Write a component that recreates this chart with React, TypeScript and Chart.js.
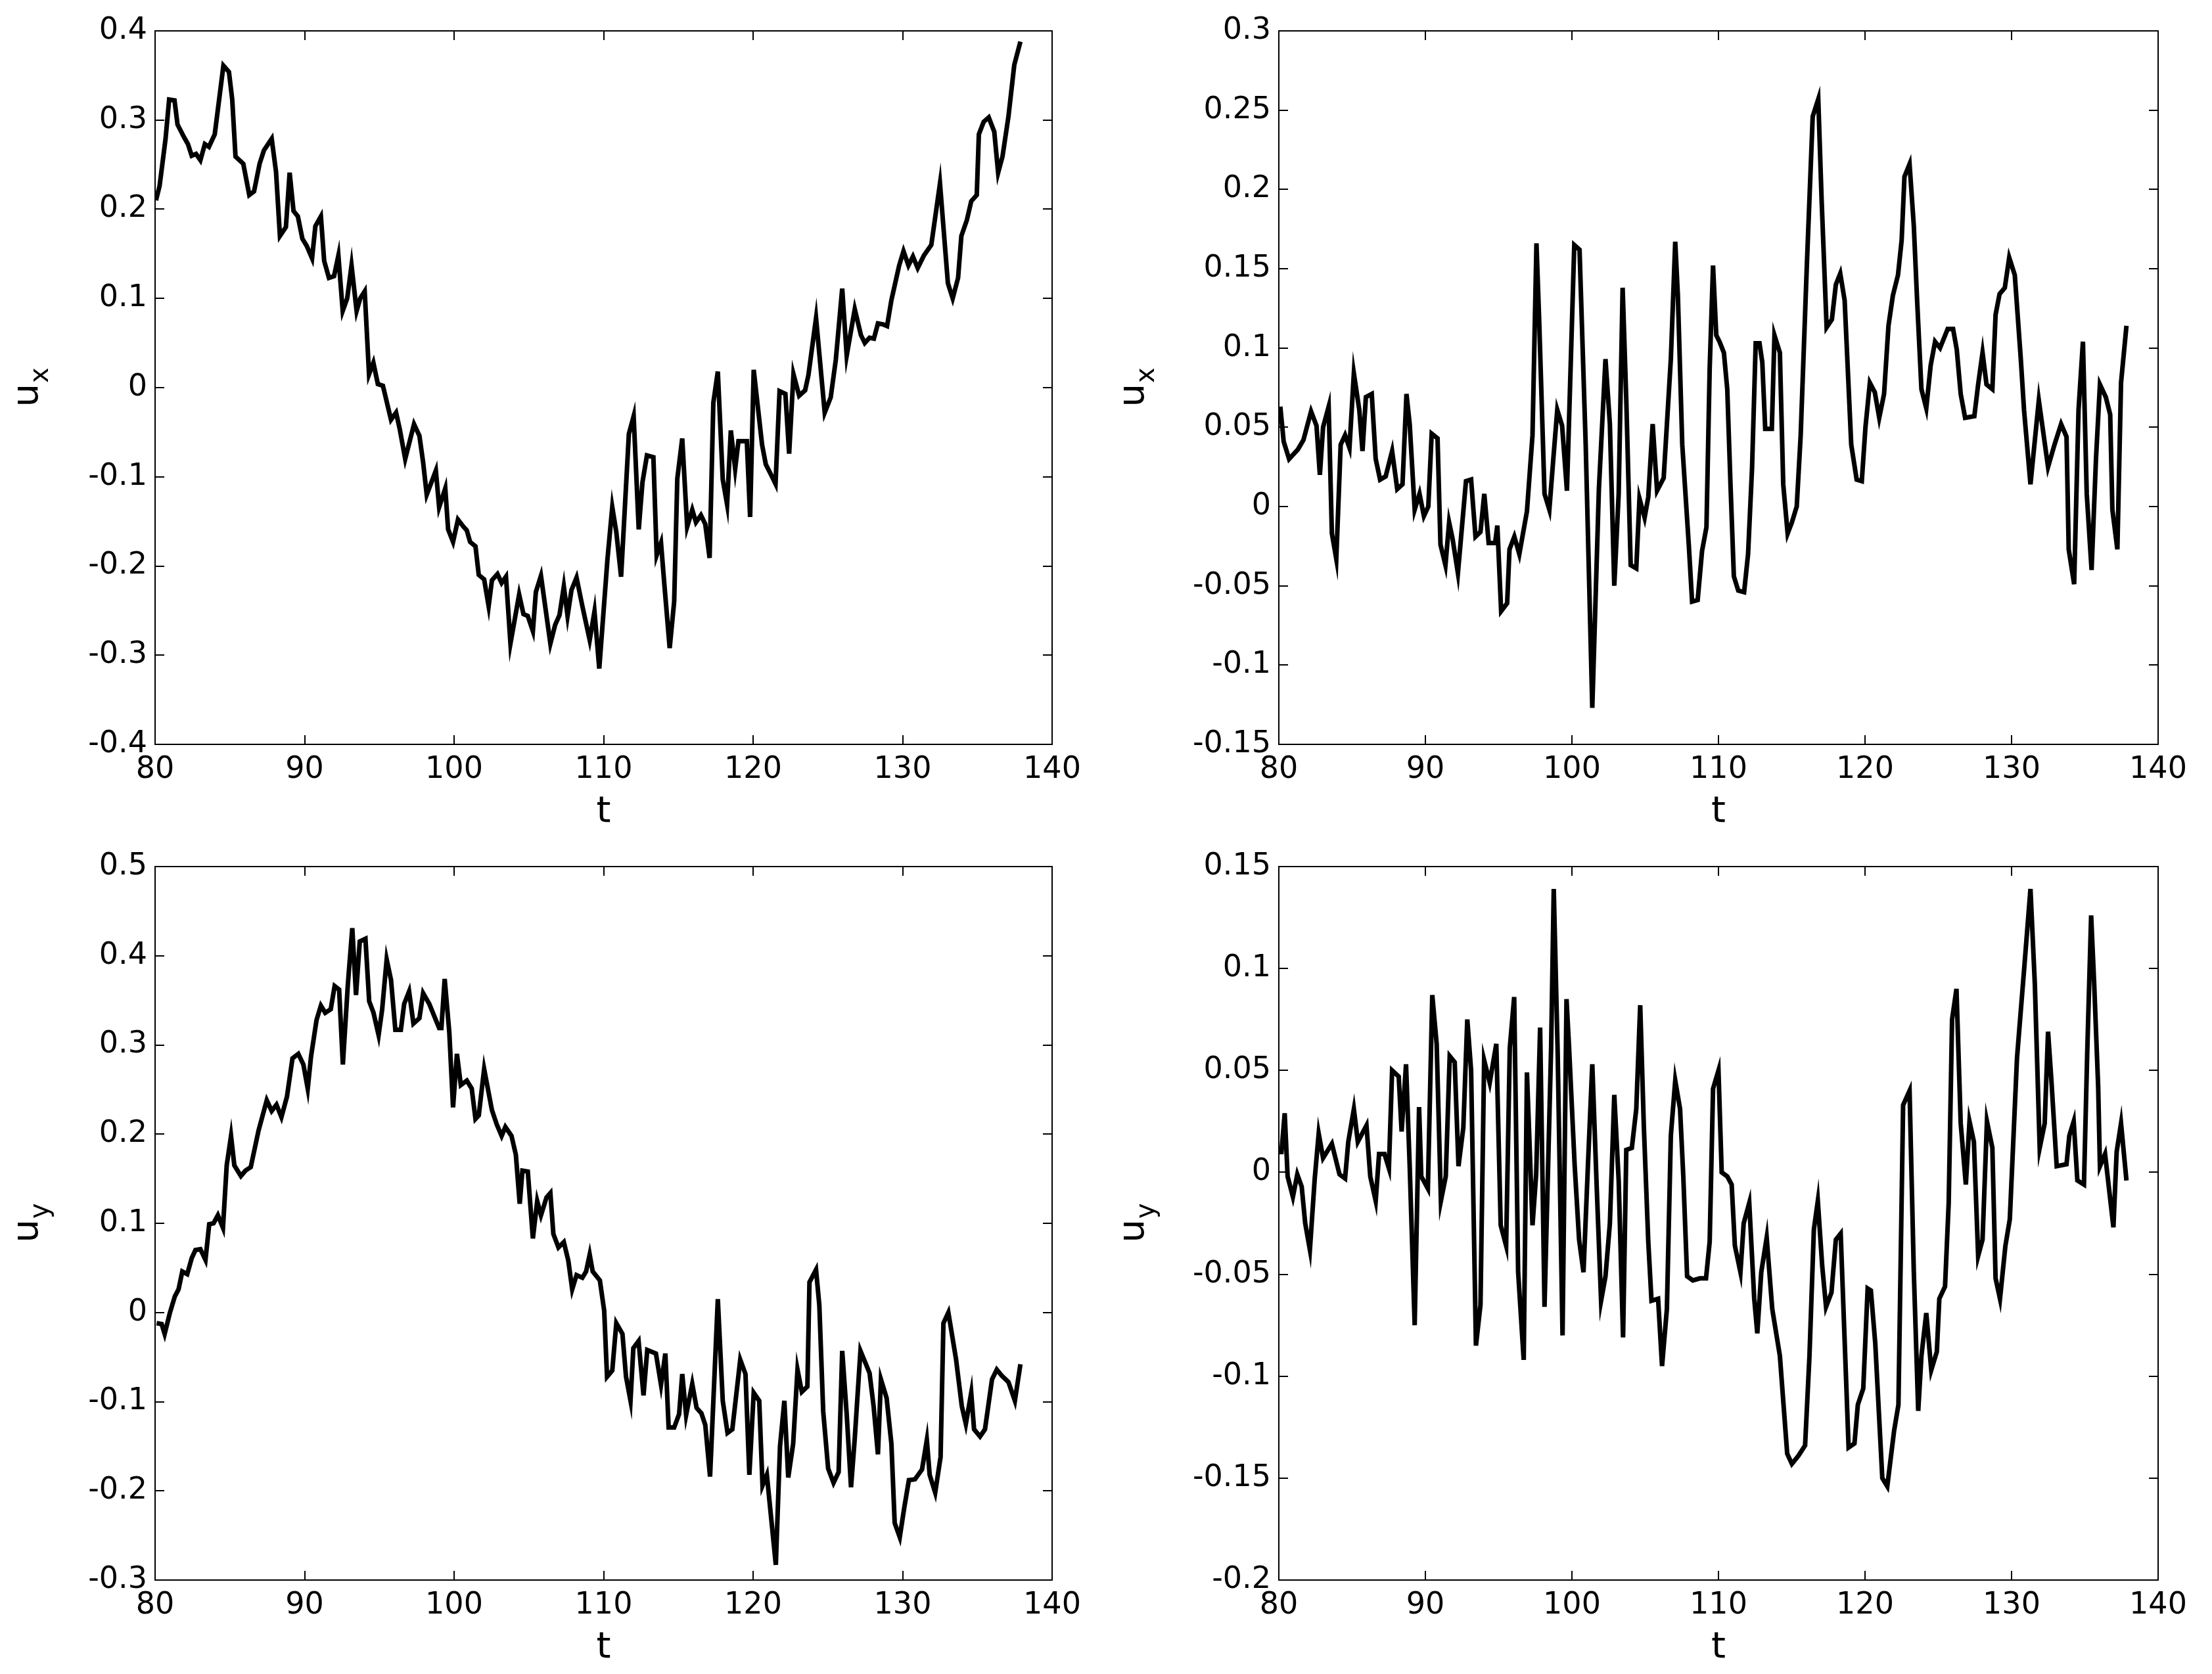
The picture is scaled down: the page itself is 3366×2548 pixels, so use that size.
import React, { useEffect, useRef } from 'react';
import { Chart, registerables } from 'chart.js';

Chart.register(...registerables);

// ---------- data ----------
const tUxA = [80.06,80.3,80.7,80.94,81.3,81.5,81.93,82.2,82.45,82.74,83.03,83.33,83.6,83.99,84.57,84.94,85.16,85.38,85.9,86.3,86.62,86.99,87.28,87.8,88.09,88.35,88.75,89.0,89.26,89.55,89.85,90.14,90.5,90.72,91.09,91.31,91.63,91.97,92.26,92.55,92.85,93.14,93.48,93.72,94.02,94.31,94.6,94.9,95.24,95.78,96.12,96.37,96.73,97.32,97.68,97.93,98.17,98.78,99.0,99.41,99.6,99.93,100.26,100.63,100.85,101.07,101.43,101.65,102.01,102.31,102.53,102.9,103.18,103.47,103.77,104.35,104.64,104.93,105.27,105.47,105.81,106.44,106.76,107.05,107.34,107.59,107.85,108.19,108.58,109.07,109.39,109.71,110.26,110.58,110.85,111.17,111.69,112.01,112.35,112.6,112.9,113.33,113.55,113.84,114.06,114.42,114.72,114.93,115.26,115.59,115.93,116.18,116.51,116.8,117.09,117.34,117.64,117.97,118.26,118.51,118.8,119.02,119.58,119.8,120.04,120.6,120.85,121.21,121.5,121.77,122.16,122.41,122.7,123.08,123.48,123.7,124.21,124.79,125.19,125.53,125.96,126.26,126.8,127.21,127.47,127.79,128.08,128.35,128.67,128.96,129.25,129.77,130.06,130.39,130.69,131.01,131.42,131.92,132.5,133.03,133.35,133.71,133.93,134.3,134.59,134.96,135.1,135.42,135.76,136.13,136.39,136.68,137.08,137.47,137.88];
const uxA = [0.210,0.226,0.279,0.323,0.322,0.295,0.281,0.273,0.260,0.262,0.255,0.273,0.270,0.284,0.361,0.354,0.323,0.259,0.251,0.216,0.220,0.251,0.266,0.279,0.242,0.170,0.180,0.241,0.198,0.192,0.167,0.159,0.145,0.181,0.192,0.142,0.123,0.125,0.148,0.086,0.100,0.137,0.086,0.100,0.108,0.015,0.028,0.004,0.002,-0.036,-0.028,-0.047,-0.080,-0.041,-0.054,-0.084,-0.120,-0.093,-0.134,-0.113,-0.159,-0.173,-0.148,-0.156,-0.160,-0.173,-0.178,-0.210,-0.215,-0.245,-0.216,-0.209,-0.219,-0.212,-0.287,-0.232,-0.254,-0.256,-0.273,-0.229,-0.211,-0.287,-0.266,-0.255,-0.223,-0.256,-0.227,-0.213,-0.245,-0.283,-0.251,-0.315,-0.192,-0.134,-0.162,-0.212,-0.052,-0.032,-0.159,-0.106,-0.076,-0.078,-0.188,-0.174,-0.220,-0.292,-0.240,-0.102,-0.057,-0.156,-0.137,-0.151,-0.143,-0.153,-0.191,-0.017,0.018,-0.103,-0.131,-0.048,-0.091,-0.060,-0.060,-0.145,0.020,-0.064,-0.086,-0.098,-0.108,-0.004,-0.007,-0.074,0.015,-0.009,-0.003,0.014,0.078,-0.028,-0.011,0.031,0.111,0.036,0.088,0.059,0.050,0.056,0.055,0.072,0.071,0.069,0.098,0.137,0.153,0.137,0.147,0.134,0.148,0.160,0.229,0.117,0.100,0.123,0.170,0.188,0.209,0.216,0.284,0.298,0.303,0.287,0.241,0.259,0.304,0.362,0.388];

const tUxB = [80.1,80.33,80.7,81.3,81.68,82.2,82.57,82.8,83.02,83.4,83.62,83.92,84.22,84.52,84.82,85.12,85.49,85.71,85.94,86.34,86.61,86.91,87.29,87.73,88.08,88.44,88.71,88.93,89.27,89.6,89.9,90.2,90.43,90.83,91.03,91.37,91.62,91.85,92.22,92.77,93.12,93.42,93.76,94.02,94.32,94.76,94.91,95.17,95.58,95.74,96.07,96.41,96.93,97.31,97.58,97.76,98.13,98.46,98.73,99.0,99.33,99.66,100.16,100.52,100.94,101.39,101.84,102.29,102.59,102.89,103.19,103.46,103.71,104.01,104.39,104.61,104.96,105.21,105.51,105.81,106.26,106.75,107.05,107.23,107.53,107.98,108.2,108.58,108.88,109.18,109.4,109.63,109.85,110.07,110.37,110.6,110.82,111.05,111.35,111.75,112.02,112.29,112.54,112.8,112.99,113.19,113.64,113.82,114.19,114.42,114.72,115.01,115.34,115.61,116.03,116.43,116.81,117.04,117.38,117.74,118.01,118.31,118.61,119.06,119.43,119.78,120.03,120.33,120.67,120.97,121.3,121.6,121.9,122.25,122.5,122.69,123.04,123.33,123.56,123.85,124.18,124.48,124.78,125.12,125.64,126.01,126.26,126.53,126.83,127.46,127.72,128.02,128.29,128.69,128.91,129.18,129.54,129.84,130.22,130.63,130.85,131.29,131.86,132.49,132.93,133.38,133.75,133.9,134.27,134.57,134.87,135.13,135.46,135.76,136.03,136.43,136.73,136.88,137.22,137.47,137.84];
const uxB = [0.063,0.041,0.030,0.036,0.042,0.060,0.051,0.020,0.050,0.063,-0.017,-0.033,0.039,0.045,0.037,0.084,0.061,0.035,0.069,0.071,0.030,0.017,0.019,0.035,0.011,0.014,0.071,0.052,-0.002,0.008,-0.006,0.000,0.046,0.043,-0.024,-0.037,-0.010,-0.020,-0.042,0.016,0.017,-0.019,-0.016,0.008,-0.023,-0.023,-0.012,-0.066,-0.061,-0.027,-0.019,-0.030,-0.003,0.045,0.166,0.119,0.008,-0.002,0.030,0.061,0.051,0.010,0.165,0.162,0.039,-0.127,0.011,0.093,0.052,-0.050,0.008,0.138,0.067,-0.037,-0.039,0.005,-0.007,0.006,0.052,0.010,0.018,0.093,0.167,0.133,0.039,-0.025,-0.060,-0.059,-0.028,-0.013,0.087,0.152,0.108,0.104,0.097,0.074,0.014,-0.044,-0.053,-0.054,-0.030,0.024,0.103,0.103,0.091,0.049,0.049,0.108,0.097,0.014,-0.017,-0.010,0.000,0.045,0.152,0.246,0.257,0.193,0.113,0.118,0.140,0.147,0.130,0.039,0.017,0.016,0.050,0.078,0.072,0.056,0.071,0.114,0.133,0.146,0.168,0.208,0.216,0.177,0.129,0.074,0.062,0.089,0.104,0.100,0.112,0.112,0.099,0.071,0.056,0.057,0.077,0.097,0.077,0.074,0.121,0.134,0.138,0.157,0.146,0.093,0.061,0.014,0.067,0.025,0.039,0.052,0.044,-0.027,-0.049,0.061,0.104,0.008,-0.040,0.030,0.077,0.069,0.058,-0.002,-0.027,0.078,0.114];

const tUyA = [80.1,80.44,80.64,80.98,81.32,81.57,81.82,82.15,82.45,82.7,83.03,83.37,83.62,83.91,84.2,84.54,84.79,85.08,85.3,85.74,86.04,86.4,86.92,87.47,87.8,88.12,88.45,88.82,89.19,89.58,89.92,90.21,90.43,90.8,91.09,91.38,91.75,92.01,92.31,92.56,92.89,93.19,93.44,93.69,94.07,94.32,94.61,94.95,95.19,95.49,95.78,96.07,96.44,96.66,96.99,97.28,97.68,97.93,98.34,99.0,99.15,99.37,99.68,99.93,100.19,100.45,100.85,101.18,101.43,101.65,102.01,102.53,102.85,103.18,103.43,103.84,104.13,104.39,104.57,104.93,105.27,105.56,105.81,106.18,106.44,106.64,106.98,107.34,107.64,107.9,108.19,108.58,108.83,109.07,109.27,109.75,110.04,110.23,110.58,110.85,111.26,111.5,111.8,111.99,112.34,112.67,112.92,113.5,113.84,114.13,114.35,114.72,115.05,115.26,115.52,115.93,116.22,116.54,116.8,117.12,117.64,117.97,118.29,118.61,119.14,119.49,119.75,120.04,120.41,120.63,120.92,121.52,121.8,122.09,122.35,122.68,122.97,123.26,123.63,123.77,124.21,124.43,124.69,125.02,125.38,125.72,125.96,126.26,126.55,126.8,127.18,127.5,127.79,128.06,128.35,128.55,128.93,129.25,129.47,129.81,130.1,130.42,130.83,131.3,131.62,131.81,132.18,132.54,132.73,133.06,133.57,133.96,134.23,134.59,134.78,135.18,135.51,135.98,136.3,136.64,137.08,137.51,137.88];
const uyA = [-0.012,-0.013,-0.024,-0.001,0.018,0.026,0.046,0.043,0.061,0.070,0.071,0.059,0.099,0.100,0.109,0.095,0.165,0.198,0.165,0.153,0.159,0.163,0.204,0.238,0.226,0.233,0.219,0.242,0.285,0.290,0.278,0.251,0.287,0.328,0.344,0.336,0.340,0.366,0.362,0.278,0.367,0.431,0.356,0.416,0.419,0.349,0.336,0.311,0.340,0.396,0.373,0.317,0.317,0.346,0.360,0.324,0.330,0.358,0.346,0.319,0.319,0.374,0.314,0.230,0.290,0.255,0.260,0.251,0.217,0.221,0.273,0.227,0.211,0.198,0.208,0.198,0.177,0.122,0.159,0.158,0.083,0.125,0.109,0.129,0.134,0.088,0.073,0.079,0.058,0.026,0.042,0.039,0.046,0.065,0.046,0.036,0.002,-0.072,-0.065,-0.012,-0.024,-0.072,-0.099,-0.040,-0.032,-0.093,-0.042,-0.046,-0.081,-0.046,-0.129,-0.129,-0.114,-0.069,-0.115,-0.080,-0.107,-0.113,-0.126,-0.184,0.015,-0.099,-0.135,-0.131,-0.053,-0.069,-0.182,-0.090,-0.099,-0.194,-0.182,-0.283,-0.150,-0.099,-0.185,-0.147,-0.064,-0.089,-0.083,0.034,0.048,0.008,-0.111,-0.175,-0.191,-0.179,-0.043,-0.114,-0.196,-0.141,-0.043,-0.056,-0.068,-0.105,-0.159,-0.075,-0.096,-0.147,-0.236,-0.252,-0.220,-0.188,-0.187,-0.176,-0.143,-0.182,-0.202,-0.162,-0.012,0.000,-0.052,-0.105,-0.125,-0.090,-0.131,-0.139,-0.131,-0.075,-0.064,-0.071,-0.078,-0.099,-0.058];

const tUyB = [80.03,80.18,80.4,80.6,80.96,81.26,81.56,81.8,82.12,82.45,82.72,83.02,83.62,84.14,84.52,84.74,85.12,85.39,85.98,86.24,86.61,86.84,87.21,87.51,87.73,88.18,88.38,88.68,88.93,89.27,89.57,89.72,90.17,90.47,90.77,91.06,91.39,91.66,92.0,92.26,92.59,92.86,93.12,93.45,93.76,94.01,94.39,94.84,95.14,95.51,95.76,96.06,96.33,96.71,96.93,97.31,97.56,97.83,98.13,98.58,98.76,99.03,99.36,99.63,99.8,100.19,100.49,100.79,101.09,101.39,101.69,101.99,102.29,102.59,102.89,103.19,103.49,103.71,104.09,104.39,104.66,104.91,105.21,105.43,105.88,106.15,106.48,106.75,107.05,107.38,107.6,107.86,108.25,108.73,109.15,109.4,109.63,110.0,110.22,110.6,110.9,111.12,111.5,111.72,112.1,112.44,112.65,112.92,113.29,113.67,114.19,114.69,115.01,115.46,115.91,116.21,116.51,116.78,117.08,117.34,117.71,118.01,118.34,118.88,119.28,119.51,119.88,120.18,120.4,120.7,121.18,121.52,121.98,122.28,122.6,123.04,123.33,123.63,123.85,124.18,124.52,124.9,125.07,125.46,125.71,125.94,126.24,126.53,126.88,127.13,127.43,127.72,128.02,128.32,128.69,128.91,129.21,129.58,129.88,130.37,130.85,131.29,131.59,131.92,132.26,132.49,132.71,133.08,133.75,133.94,134.24,134.49,134.94,135.16,135.43,135.64,135.91,136.03,136.38,136.65,136.95,137.17,137.47,137.84];
const uyB = [0.010,0.010,0.029,-0.002,-0.012,-0.001,-0.007,-0.025,-0.038,-0.003,0.019,0.007,0.014,-0.001,-0.003,0.015,0.031,0.015,0.023,-0.002,-0.014,0.009,0.009,0.002,0.050,0.047,0.020,0.053,0.003,-0.075,0.032,-0.002,-0.008,0.087,0.063,-0.014,-0.002,0.057,0.054,0.003,0.022,0.075,0.050,-0.085,-0.065,0.055,0.044,0.063,-0.026,-0.036,0.061,0.086,-0.049,-0.092,0.049,-0.026,-0.001,0.071,-0.066,0.061,0.139,0.058,-0.080,0.085,0.062,0.003,-0.033,-0.049,0.003,0.053,-0.007,-0.063,-0.051,-0.025,0.038,-0.004,-0.081,0.011,0.012,0.031,0.082,0.022,-0.034,-0.063,-0.062,-0.095,-0.067,0.018,0.045,0.031,-0.002,-0.051,-0.053,-0.052,-0.052,-0.034,0.041,0.050,0.000,-0.002,-0.006,-0.036,-0.049,-0.025,-0.015,-0.062,-0.079,-0.049,-0.032,-0.067,-0.090,-0.138,-0.143,-0.139,-0.134,-0.090,-0.028,-0.014,-0.046,-0.066,-0.059,-0.033,-0.030,-0.135,-0.133,-0.114,-0.106,-0.057,-0.058,-0.084,-0.150,-0.154,-0.127,-0.114,0.033,0.040,-0.049,-0.117,-0.090,-0.069,-0.097,-0.088,-0.062,-0.056,-0.015,0.075,0.090,0.024,-0.006,0.025,0.015,-0.041,-0.033,0.025,0.012,-0.052,-0.062,-0.036,-0.023,0.056,0.099,0.139,0.092,0.012,0.024,0.069,0.046,0.003,0.004,0.018,0.025,-0.004,-0.006,0.058,0.126,0.092,0.042,0.003,0.009,-0.008,-0.027,0.010,0.024,-0.004];

// tick labels
const xTickValues = [80, 90, 100, 110, 120, 130, 140];
const yTicksUxA = [-0.4, -0.3, -0.2, -0.1, 0, 0.1, 0.2, 0.3, 0.4];
const yTicksUxB = [-0.15, -0.1, -0.05, 0, 0.05, 0.1, 0.15, 0.2, 0.25, 0.3];
const yTicksUyA = [-0.3, -0.2, -0.1, 0, 0.1, 0.2, 0.3, 0.4, 0.5];
const yTicksUyB = [-0.2, -0.15, -0.1, -0.05, 0, 0.05, 0.1, 0.15];

const FONT = 'DejaVu Sans';
const TICK_LEN = 14;

const fmt = (v: number) => {
  const r = Math.round(v * 1000) / 1000;
  return r === 0 ? '0' : String(r);
};

const framePlugin = {
  id: 'frame',
  afterDraw(chart: any, _args: any, opts: any) {
    const { ctx, chartArea: a, scales } = chart;
    ctx.save();
    ctx.strokeStyle = '#000';
    ctx.lineWidth = 2;
    ctx.lineCap = 'butt';
    ctx.strokeRect(a.left, a.top, a.right - a.left, a.bottom - a.top);
    ctx.beginPath();
    scales.x.ticks.forEach((t: any) => {
      const p = Math.round(scales.x.getPixelForValue(t.value));
      ctx.moveTo(p, a.bottom);
      ctx.lineTo(p, a.bottom - TICK_LEN);
      ctx.moveTo(p, a.top);
      ctx.lineTo(p, a.top + TICK_LEN);
    });
    scales.y.ticks.forEach((t: any) => {
      const p = Math.round(scales.y.getPixelForValue(t.value));
      ctx.moveTo(a.left, p);
      ctx.lineTo(a.left + TICK_LEN, p);
      ctx.moveTo(a.right, p);
      ctx.lineTo(a.right - TICK_LEN, p);
    });
    ctx.stroke();

    // axis labels
    ctx.fillStyle = '#000';
    ctx.font = `56px "${FONT}"`;
    ctx.textAlign = 'center';
    ctx.textBaseline = 'alphabetic';
    ctx.fillText(opts.xLabel, (a.left + a.right) / 2, a.bottom + 98 + 20);

    const cy = (a.top + a.bottom) / 2;
    ctx.translate(opts.yLabelX, cy);
    ctx.rotate(-Math.PI / 2);
    ctx.textAlign = 'left';
    ctx.font = `56px "${FONT}"`;
    const wMain = ctx.measureText(opts.yMain).width;
    ctx.font = `40px "${FONT}"`;
    const wSub = ctx.measureText(opts.ySub).width;
    const x0 = -(wMain + wSub) / 2;
    ctx.font = `56px "${FONT}"`;
    ctx.fillText(opts.yMain, x0, 15);
    ctx.font = `40px "${FONT}"`;
    ctx.fillText(opts.ySub, x0 + wMain + 1, 31);
    ctx.restore();
  },
};

type PanelProps = {
  t: number[];
  u: number[];
  yTicks: number[];
  left: number;
  top: number;
  width: number;
  height: number;
  padTop: number;
  padRight: number;
  yAxisW: number;
  xAxisH: number;
  sub: string;
};

function Panel(p: PanelProps) {
  const ref = useRef<HTMLCanvasElement | null>(null);
  useEffect(() => {
    if (!ref.current) return;
    const yMin = p.yTicks[0];
    const yMax = p.yTicks[p.yTicks.length - 1];
    const chart = new Chart(ref.current, {
      type: 'line',
      data: {
        datasets: [
          {
            data: p.t.map((x, i) => ({ x, y: p.u[i] })),
            borderColor: '#000',
            borderWidth: 7,
            pointRadius: 0,
            tension: 0,
            fill: false,
            borderJoinStyle: 'miter',
          },
        ],
      },
      options: {
        responsive: false,
        animation: false,
        devicePixelRatio: 1,
        events: [],
        layout: { padding: { top: p.padTop, right: p.padRight, left: 0, bottom: 0 } },
        plugins: {
          legend: { display: false },
          tooltip: { enabled: false },
          frame: { xLabel: 't', yMain: 'u', ySub: p.sub, yLabelX: 42 },
        } as any,
        scales: {
          x: {
            type: 'linear',
            min: 80,
            max: 140,
            afterBuildTicks: (s: any) => {
              s.ticks = xTickValues.map((v) => ({ value: v }));
            },
            afterFit: (s: any) => {
              s.height = p.xAxisH;
            },
            grid: { display: false, drawTicks: false },
            border: { display: false },
            ticks: {
              color: '#000',
              font: { family: FONT, size: 46 },
              padding: 11,
              maxRotation: 0,
              autoSkip: false,
              callback: (v: any) => fmt(Number(v)),
            },
          },
          y: {
            type: 'linear',
            min: yMin,
            max: yMax,
            afterBuildTicks: (s: any) => {
              s.ticks = p.yTicks.map((v) => ({ value: v }));
            },
            afterFit: (s: any) => {
              s.width = p.yAxisW;
            },
            grid: { display: false, drawTicks: false },
            border: { display: false },
            ticks: {
              color: '#000',
              font: { family: FONT, size: 46 },
              padding: 12,
              autoSkip: false,
              callback: (v: any) => fmt(Number(v)),
            },
          },
        },
      } as any,
      plugins: [framePlugin as any],
    });
    return () => chart.destroy();
  }, []);
  return (
    <canvas
      ref={ref}
      width={p.width}
      height={p.height}
      style={{ position: 'absolute', left: p.left, top: p.top, width: p.width, height: p.height }}
    />
  );
}

export default function App() {
  const W = 1683;
  const H = 1274;
  return (
    <div style={{ position: 'absolute', left: 0, top: 0, width: 3366, height: 2548, background: '#fff', overflow: 'hidden' }}>
      <Panel t={tUxA} u={uxA} yTicks={yTicksUxA} left={0} top={0} width={W} height={H} padTop={47} padRight={82} yAxisW={236} xAxisH={141} sub="x" />
      <Panel t={tUxB} u={uxB} yTicks={yTicksUxB} left={W} top={0} width={W} height={H} padTop={47} padRight={82} yAxisW={263} xAxisH={141} sub="x" />
      <Panel t={tUyA} u={uyA} yTicks={yTicksUyA} left={0} top={H} width={W} height={H} padTop={45} padRight={82} yAxisW={236} xAxisH={143} sub="y" />
      <Panel t={tUyB} u={uyB} yTicks={yTicksUyB} left={W} top={H} width={W} height={H} padTop={45} padRight={82} yAxisW={263} xAxisH={143} sub="y" />
    </div>
  );
}
